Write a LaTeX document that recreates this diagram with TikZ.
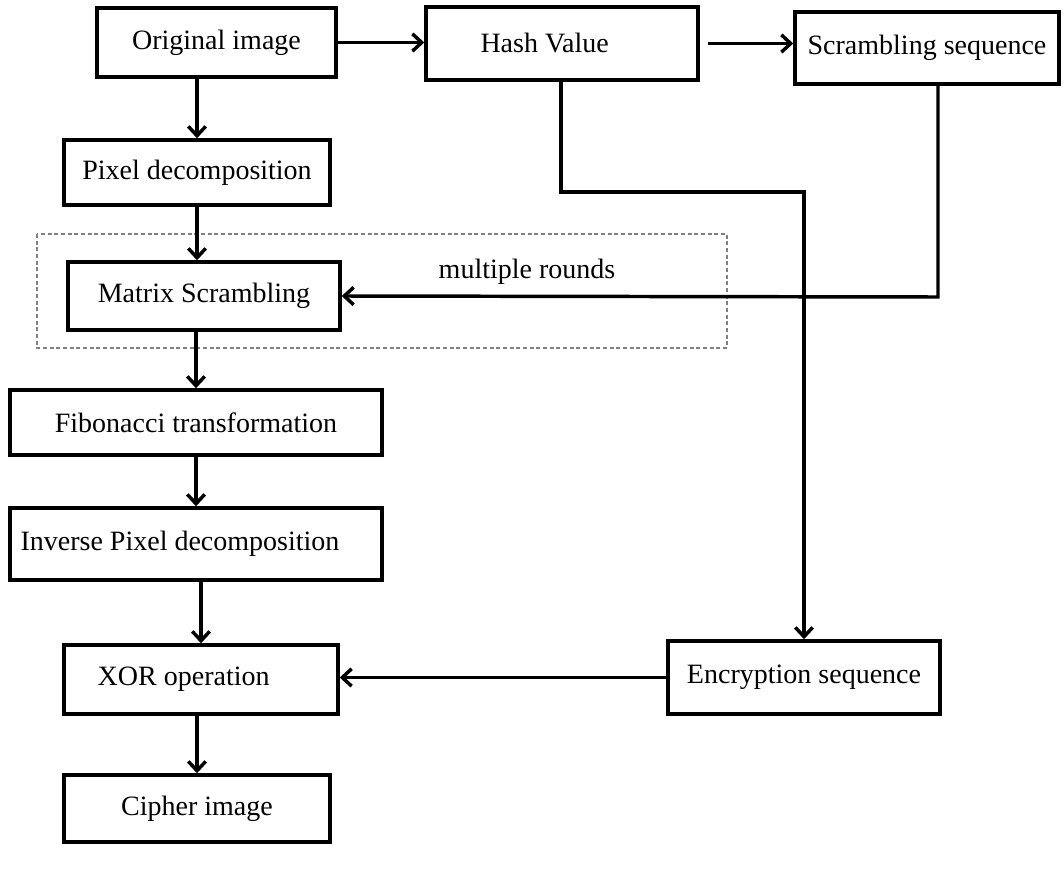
\documentclass[tikz,border=0pt]{standalone}
\usepackage{fontspec}
\setmainfont{Liberation Serif}
\usetikzlibrary{arrows.meta}

\begin{document}
\begin{tikzpicture}[x=0.75pt,y=-0.75pt,>={Straight Barb[length=7pt,width=13pt,line width=2.6pt]},
		line width=2.6pt,
		font=\fontsize{21}{25}\selectfont,
		box/.style 2 args={draw,line width=2.6pt,inner sep=0pt,
			minimum width=#1*0.75pt,minimum height=#2*0.75pt}]
		\useasboundingbox (0,0) rectangle (1064,870);

		% the loop region
		\draw[gray,line width=0.8pt,dash pattern=on 3pt off 2pt] (37,234) rectangle (727,348);

		% the boxes
		\node[box={239}{69}] (orig) at (216.5,42.5) {Original image};
		\node[box={272}{73}] (hash) at (562,43.5) {Hash Value\hspace*{26pt}};
		\node[box={264}{72}] (scr) at (927,48) {Scrambling sequence};
		\node[box={266}{65}] (pix) at (197,172.5) {Pixel decomposition};
		\node[box={272}{68}] (mat) at (204,296) {Matrix Scrambling};
		\node[box={372}{65}] (fib) at (196,422.5) {Fibonacci transformation};
		\node[box={372}{72}] (inv) at (196,544) {Inverse Pixel decomposition\hspace*{24pt}};
		\node[box={274}{69}] (xor) at (201,679.5) {XOR operation\hspace*{26pt}};
		\node[box={272}{73}] (enc) at (804,677.5) {Encryption sequence};
		\node[box={266}{67}] (cip) at (197,808.5) {Cipher image};
		\node (rounds) at (527,272) {multiple rounds};

		% the main chain
		\draw[->] (orig.east) -- (hash.west |- orig.east);
		\draw[->,shorten <=6pt] (hash.east) -- (scr.west |- hash.east);
		\draw[->] (orig.south -| pix.north) -- (pix.north);
		\draw[->] (pix.south) -- (pix.south |- mat.north);
		\draw[->] (fib.north |- mat.south) -- (fib.north);
		\draw[->] (fib.south) -- (inv.north);
		\draw[->] (xor.north |- inv.south) -- (xor.north);
		\draw[->] (cip.north |- xor.south) -- (cip.north);

		% the key streams
		\coordinate (sbend) at (938,297);
		\coordinate (hbend) at (561,192);
		\draw[->] (scr.south -| sbend) -- (sbend) -- (mat.east);
		\draw[->] (hash.south -| hbend) -- (hbend) -| (enc.north);
		\draw[->] (enc.west) -- (enc.west -| xor.east);
	\end{tikzpicture}
\end{document}
